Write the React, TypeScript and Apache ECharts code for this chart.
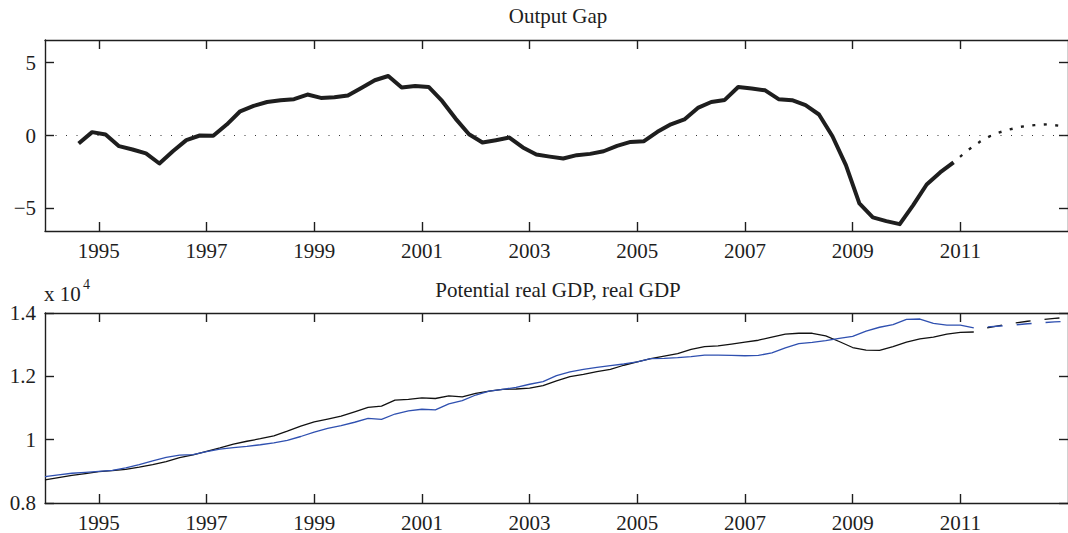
import React, { useEffect, useRef } from "react";
import * as echarts from "echarts";

// ---------- data ----------
// Output gap (percent), quarterly from 1994Q3 (plotted at 1994.625)
const gapStart = 1994.625;
const outputGap = [
  -0.55, 0.23, 0.07, -0.73, -0.96, -1.23, -1.92, -1.08, -0.32, 0.0,
  -0.02, 0.75, 1.66, 2.03, 2.3, 2.42, 2.49, 2.81, 2.58, 2.62,
  2.74, 3.26, 3.79, 4.08, 3.29, 3.4, 3.33, 2.37, 1.16, 0.09,
  -0.48, -0.32, -0.14, -0.82, -1.3, -1.45, -1.58, -1.35, -1.26, -1.08,
  -0.71, -0.44, -0.39, 0.25, 0.77, 1.1, 1.89, 2.3, 2.44, 3.33,
  3.22, 3.1, 2.49, 2.42, 2.08, 1.44, -0.05, -2.03, -4.66, -5.62,
  -5.87, -6.08, -4.77, -3.36, -2.53, -1.85,
];
// Forecast of output gap, starting at the last observed quarter
const outputGapForecast = [-1.85, -1.05, -0.4, 0.1, 0.38, 0.6, 0.71, 0.77, 0.65];

// Real GDP and potential real GDP, quarterly from 1994.0
const gdpStart = 1994.0;
const realGdp = [
  8730, 8800, 8870, 8930, 8990, 9020, 9060, 9130, 9210, 9310,
  9430, 9520, 9630, 9740, 9860, 9950, 10030, 10120, 10270, 10430,
  10560, 10650, 10740, 10880, 11020, 11060, 11250, 11270, 11320, 11300,
  11380, 11350, 11460, 11530, 11590, 11600, 11630, 11710, 11860, 11990,
  12060, 12150, 12220, 12350, 12460, 12560, 12640, 12720, 12850, 12940,
  12960, 13020, 13080, 13140, 13240, 13330, 13360, 13360, 13280, 13100,
  12910, 12830, 12820, 12940, 13080, 13180, 13240, 13330, 13390, 13400,
];
const potentialGdp = [
  8830, 8890, 8940, 8970, 9000, 9030, 9110, 9210, 9330, 9440,
  9510, 9530, 9620, 9700, 9750, 9790, 9840, 9900, 9980, 10100,
  10240, 10360, 10440, 10550, 10670, 10640, 10810, 10910, 10960, 10940,
  11130, 11230, 11410, 11530, 11590, 11650, 11750, 11830, 12020, 12140,
  12220, 12280, 12340, 12390, 12460, 12560, 12570, 12590, 12620, 12670,
  12670, 12660, 12650, 12660, 12740, 12900, 13030, 13070, 13130, 13200,
  13260, 13430, 13550, 13630, 13800, 13810, 13670, 13620, 13620, 13530,
];
// Forecasts starting at the last observed quarter (2011.25)
const realGdpForecast = [13400, 13530, 13610, 13680, 13740, 13790, 13830, 13860];
const potentialGdpForecast = [13530, 13560, 13590, 13620, 13660, 13690, 13720, 13740];

const yearTicks = [1995, 1997, 1999, 2001, 2003, 2005, 2007, 2009, 2011];
const gapTicks = [-5, 0, 5];
const gdpTicks = [8000, 10000, 12000, 14000];

const titleTop = "Output Gap";
const titleBottom = "Potential real GDP, real GDP";

// ---------- helpers ----------
const toPairs = (start: number, values: number[]) =>
  values.map((v, i) => [start + 0.25 * i, v]);

const FONT = '"Liberation Serif", "Times New Roman", serif';
const INK = "#1e1e1e";

export default function App() {
  const ref = useRef<HTMLDivElement>(null);

  useEffect(() => {
    if (!ref.current) return;
    const chart = echarts.init(ref.current, undefined, { renderer: "svg" });

    const lineCol = { color: INK, width: 1.4 };
    const xBase = (gridIndex: number, position: "bottom" | "top", labels: boolean) => ({
      type: "value",
      gridIndex,
      position,
      min: 1994,
      max: 2013,
      axisLine: { show: true, onZero: false, lineStyle: lineCol },
      axisTick: { show: true, inside: true, length: 9, customValues: yearTicks, lineStyle: lineCol },
      axisLabel: {
        show: labels,
        customValues: yearTicks,
        fontFamily: FONT,
        fontSize: 21,
        color: INK,
        margin: 9,
        formatter: (v: number) => String(v),
      },
      splitLine: { show: false },
    });
    const yBase = (
      gridIndex: number,
      position: "left" | "right",
      labels: boolean,
      min: number,
      max: number,
      ticks: number[],
      fmt: (v: number) => string
    ) => ({
      type: "value",
      gridIndex,
      position,
      min,
      max,
      axisLine: { show: true, onZero: false, lineStyle: lineCol },
      axisTick: { show: true, inside: true, length: 9, customValues: ticks, lineStyle: lineCol },
      axisLabel: {
        show: labels,
        customValues: ticks,
        fontFamily: FONT,
        fontSize: 21,
        color: INK,
        margin: 9,
        formatter: fmt,
      },
      splitLine: { show: false },
    });

    const gapFmt = (v: number) => (v < 0 ? "\u2212" + String(-v) : String(v));
    const gdpFmt = (v: number) => String(Math.round(v / 1000) / 10);

    const gapForecastStart = gapStart + 0.25 * (outputGap.length - 1);
    const gdpForecastStart = gdpStart + 0.25 * (realGdp.length - 1);

    chart.setOption({
      animation: false,
      backgroundColor: "#ffffff",
      grid: [
        { left: 45, top: 40, width: 1027, height: 191 },
        { left: 45, top: 313, width: 1027, height: 190 },
      ],
      xAxis: [
        xBase(0, "bottom", true),
        xBase(0, "top", false),
        xBase(1, "bottom", true),
        xBase(1, "top", false),
      ],
      yAxis: [
        yBase(0, "left", true, -6.55, 6.55, gapTicks, gapFmt),
        yBase(0, "right", false, -6.55, 6.55, gapTicks, gapFmt),
        yBase(1, "left", true, 8000, 14000, gdpTicks, gdpFmt),
        yBase(1, "right", false, 8000, 14000, gdpTicks, gdpFmt),
      ],
      series: [
        {
          type: "line",
          xAxisIndex: 0,
          yAxisIndex: 0,
          data: [
            [1994, 0],
            [2013, 0],
          ],
          showSymbol: false,
          silent: true,
          lineStyle: { color: "#333", width: 1, type: [1, 9.5] },
          z: 1,
        },
        {
          type: "line",
          xAxisIndex: 0,
          yAxisIndex: 0,
          data: toPairs(gapStart, outputGap),
          showSymbol: false,
          lineStyle: { color: INK, width: 4, join: "round" },
          z: 3,
        },
        {
          type: "line",
          xAxisIndex: 0,
          yAxisIndex: 0,
          data: toPairs(gapForecastStart, outputGapForecast),
          showSymbol: false,
          lineStyle: { color: INK, width: 2.4, type: [3, 8.5], dashOffset: 3 },
          z: 3,
        },
        {
          type: "line",
          xAxisIndex: 2,
          yAxisIndex: 2,
          data: toPairs(gdpStart, realGdp),
          showSymbol: false,
          lineStyle: { color: "#111", width: 1.3 },
          z: 3,
        },
        {
          type: "line",
          xAxisIndex: 2,
          yAxisIndex: 2,
          data: toPairs(gdpStart, potentialGdp),
          showSymbol: false,
          lineStyle: { color: "#2f50b0", width: 1.3 },
          z: 3,
        },
        {
          type: "line",
          xAxisIndex: 2,
          yAxisIndex: 2,
          data: toPairs(gdpForecastStart, realGdpForecast),
          showSymbol: false,
          lineStyle: { color: "#111", width: 1.4, type: [15, 14], dashOffset: 15 },
          z: 3,
        },
        {
          type: "line",
          xAxisIndex: 2,
          yAxisIndex: 2,
          data: toPairs(gdpForecastStart, potentialGdpForecast),
          showSymbol: false,
          lineStyle: { color: "#2f50b0", width: 1.4, type: [15, 14], dashOffset: 15 },
          z: 3,
        },
      ],
      graphic: [
        {
          type: "text",
          x: 558,
          y: 16,
          style: {
            text: titleTop,
            fontFamily: FONT,
            fontSize: 21,
            fill: INK,
            align: "center",
            verticalAlign: "middle",
          },
        },
        {
          type: "text",
          x: 558,
          y: 290,
          style: {
            text: titleBottom,
            fontFamily: FONT,
            fontSize: 21,
            fill: INK,
            align: "center",
            verticalAlign: "middle",
          },
        },
        {
          type: "text",
          x: 44,
          y: 294,
          style: {
            text: "x 10",
            fontFamily: FONT,
            fontSize: 21,
            fill: INK,
            align: "left",
            verticalAlign: "middle",
          },
        },
        {
          type: "text",
          x: 83,
          y: 284,
          style: {
            text: "4",
            fontFamily: FONT,
            fontSize: 14,
            fill: INK,
            align: "left",
            verticalAlign: "middle",
          },
        },
      ],
    });

    return () => chart.dispose();
  }, []);

  return (
    <div
      ref={ref}
      style={{ position: "absolute", left: 0, top: 0, width: 1068, height: 533 }}
    />
  );
}
